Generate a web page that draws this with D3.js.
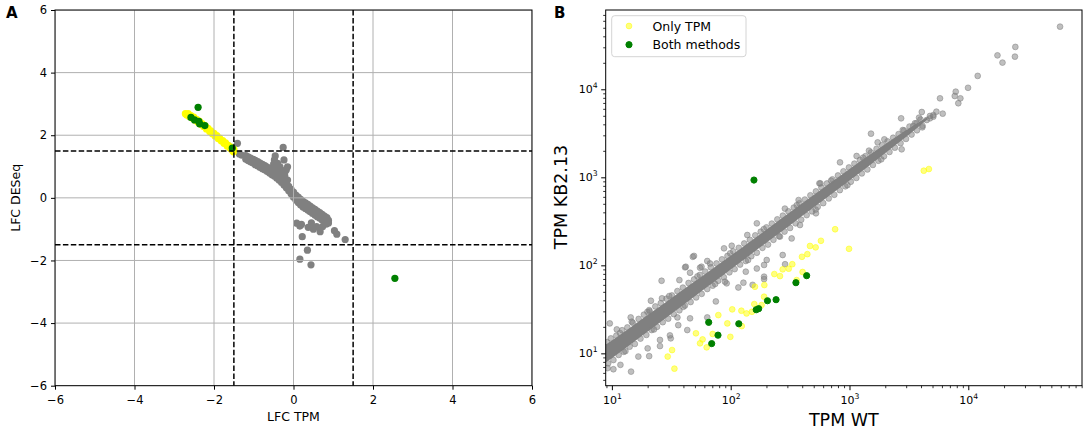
<!DOCTYPE html>
<html><head><meta charset="utf-8">
<script src="https://cdn.jsdelivr.net/npm/d3@7"></script>
<style>body{margin:0;background:#fff} svg{display:block} text{font-family:"DejaVu Sans",sans-serif}</style>
</head><body><svg id="c" width="1084" height="429"></svg>
<script>
// ---------------- DATA ----------------
// Panel A (log fold changes)
const lfcDomain = [-6, 6];
const lfcTicks = [-6, -4, -2, 0, 2, 4, 6];
const lfcThresholds = [-1.5, 1.5];
const aGray = [
 [-1.20,1.35],[-1.20,1.23],[-1.14,1.31],[-1.14,1.19],[-1.08,1.27],[-1.08,1.15],[-1.02,1.23],[-1.02,1.11],
 [-0.96,1.20],[-0.96,1.06],[-0.90,1.16],[-0.90,1.02],[-0.84,1.11],[-0.84,0.97],[-0.78,1.07],[-0.78,0.93],
 [-0.72,1.03],[-0.72,0.89],[-0.66,0.98],[-0.66,0.84],[-0.60,0.93],[-0.60,0.79],[-0.54,0.88],[-0.54,0.74],
 [-0.48,0.83],[-0.48,0.69],[-0.42,0.77],[-0.42,0.63],[-0.36,0.70],[-0.36,0.56],[-0.30,0.63],[-0.30,0.49],
 [-0.24,0.55],[-0.24,0.41],[-0.18,0.46],[-0.18,0.32],[-0.12,0.37],[-0.12,0.23],[-0.06,0.27],[-0.06,0.13],
 [0.00,0.18],[0.00,0.02],[0.06,0.09],[0.06,-0.07],[0.12,0.02],[0.12,-0.15],[0.18,-0.05],[0.18,-0.23],[0.15,-0.12],
 [0.24,-0.11],[0.24,-0.29],[0.27,-0.20],[0.30,-0.16],[0.30,-0.34],[0.36,-0.21],[0.36,-0.39],[0.39,-0.30],
 [0.42,-0.26],[0.42,-0.44],[0.48,-0.32],[0.48,-0.50],[0.51,-0.41],[0.54,-0.37],[0.54,-0.55],
 [0.60,-0.42],[0.60,-0.60],[0.63,-0.51],[0.66,-0.47],[0.66,-0.65],[0.72,-0.53],[0.72,-0.71],[0.75,-0.62],
 [0.78,-0.58],[0.78,-0.76],[0.84,-0.63],[0.84,-0.81],[0.88,-0.72],
 [-1.17,1.27],[-0.99,1.14],[-0.81,1.02],[-0.63,0.88],[-0.45,0.73],[-0.27,0.52],[-0.09,0.21],[0.09,-0.04],
 [-0.46,1.34],[-0.48,1.21],[-0.26,1.61],[-0.24,1.21],[-0.15,0.99],[-0.55,0.95],[-0.34,0.99],[-0.21,0.84],
 [-0.15,0.57],[-0.40,1.10],[-0.30,0.88],[-0.22,0.70],[-0.44,0.98],[-0.50,1.08],[-0.36,0.84],[-0.18,0.90],
 [-1.41,1.74],[-1.36,1.40],[-1.30,1.36],
 [0.08,-0.81],[0.16,-0.90],[0.22,-1.24],[0.35,-1.67],[0.16,-1.96],[0.44,-2.14],[0.37,-0.94],[0.50,-1.00],
 [0.58,-0.92],[0.67,-1.08],[0.73,-0.92],[0.82,-0.84],[0.88,-0.80],[1.03,-1.05],[1.09,-1.16],[1.30,-1.33],
 [0.20,-0.85],[0.45,-0.80]
];
const aOnlyTPM = [
 [-2.72,2.69],[-2.68,2.64],[-2.65,2.69],[-2.62,2.60],[-2.58,2.63],[-2.55,2.55],[-2.51,2.58],[-2.48,2.49],
 [-2.44,2.51],[-2.41,2.42],[-2.37,2.45],[-2.33,2.35],[-2.30,2.37],[-2.26,2.28],[-2.22,2.30],[-2.19,2.20],
 [-2.15,2.22],[-2.11,2.12],[-2.08,2.14],[-2.04,2.05],[-2.00,2.06],[-1.97,1.97],[-1.93,1.99],[-1.89,1.89],
 [-1.86,1.91],[-1.82,1.82],[-1.78,1.83],[-1.75,1.74],[-1.71,1.76],[-1.67,1.66],[-1.64,1.68],[-1.60,1.59],
 [-1.57,1.62],[-1.54,1.52],[-1.51,1.47],[-1.50,1.55]
];
const aBoth = [[-2.40,2.89],[-2.58,2.57],[-2.49,2.49],[-2.38,2.44],[-2.36,2.36],[-2.23,2.31],[-1.54,1.59],[2.55,-2.57]];

// Panel B (TPM values)
const wtDomain = [8.87, 90600];
const kbDomain = [4.29, 79600];
const tpmTicks = [10, 100, 1000, 10000];
// envelope of the dense cloud of genes
const bandWT   = [8.9, 10, 15, 22, 32, 46, 68, 100, 150, 220, 320, 460, 680, 1000, 1500, 2200, 3200, 4500];
const bandLow  = [7.9, 8.8, 13.2, 19.4, 28.3, 41.0, 60.8, 89.6, 135.0, 198.5, 289.5, 418.6, 622.0, 920.5, 1393, 2080, 3085, 4495];
const bandHigh = [12.6, 14.0, 20.6, 29.8, 42.8, 60.8, 88.6, 128.4, 191.5, 279.8, 405.8, 580.6, 854.3, 1247, 1826, 2602, 3633, 4820];
// genes on the edge of the cloud
const bEdge = [
 [9.1,13.4],[9.3,7.7],[9.8,14.8],[10.3,8.4],[10.9,15.9],[11.4,9.6],[12.2,18.3],[12.6,10.4],[13.5,19.7],[14.1,11.9],
 [15.0,22.2],[15.6,12.8],[16.8,24.6],[17.4,14.7],[18.6,27.5],[19.5,16.2],[20.8,30.0],[21.6,18.4],[23.2,34.1],[24.0,20.0],
 [25.8,37.2],[26.8,22.6],[28.8,41.8],[29.8,24.8],[32.0,45.5],[33.2,27.9],[35.6,51.0],[37.0,30.8],[39.6,55.8],[41.2,34.9],
 [44.2,63.0],[46.0,38.3],[49.2,69.2],[51.2,43.2],[55.0,77.8],[57.0,47.4],[61.0,85.0],[63.5,53.8],[68.0,95.2],[70.5,58.8],
 [76.0,105],[78.5,66.8],[84.5,117],[87.5,73.2],[94.0,128],[97.5,83.2],[105,144],[108,90.6],[117,158],[120,102],
 [130,177],[134,112],[145,195],[149,127],[161,219],[166,139],[179,241],[185,158],[200,270],[206,172],
 [222,298],[229,195],[247,333],[255,214],[275,367],[284,242],[306,411],[316,266],[340,453],[352,300],
 [379,507],[392,330],[421,559],[436,372],[469,625],[485,410],[522,692],[540,462],[580,770],[601,509],
 [646,851],[669,575],[719,949],[745,633],[800,1050],[829,715],[890,1170],[922,790],[990,1294],[1026,891],
 [1100,1430],[1142,984],[1225,1575],[1270,1108],[1364,1740],[1414,1228],[1518,1915],[1574,1383],[1690,2105],[1750,1543],
 [1880,2325],[1950,1733],[2090,2565],[2170,1943],[2330,2815],[2410,2173],[2590,3095],[2690,2443],[2880,3415],[2990,2733],
 [3200,3775],[3330,3063],[3560,4115],[3700,3423],[3960,4535],[4120,3843],
 [11.7,17.0],[13.0,10.6],[19.9,29.6],[22.6,18.7],[30.4,44.8],[40.0,33.8],[52.5,75.0],[74.0,61.5],[99,137],[140,115],
 [190,258],[260,212],[360,482],[520,430],[700,918],[960,815],[1300,1670],[1850,1600]
];
// genes away from the cloud
const bGray = [
 [9.6,21.9],[11.0,18.7],[14.5,6.2],[20.6,9.3],[20.0,11.4],[16.7,9.2],[25.4,12.1],[30.8,16.0],[26.2,66.8],[21.3,39.6],
 [41.3,94.8],[49.1,128],[45.5,25.0],[35.6,25.6],[63.5,112],[63.5,25.6],[75.0,38.9],[87.9,156],[102,167],[92.5,62.4],
 [128,63.5],[191,74.3],[191,69.8],[166,92],[134,84.7],[201,115],[274,131],[287,103],[326,202],[41.9,96.4],
 [56.8,96.4],[48.0,125],[166,300],[138,221],[558,855],[373,552],[286,441],[522,390],[383,287],[569,853],
 [832,1479],[1148,1746],[1459,2009],[1726,2495],[1965,2700],[1517,3133],[2807,3445],[2749,2080],[4103,3698],[3670,4100],
 [3440,3830],[4470,4480],[4760,4680],[5080,4890],[59200,51500],[24900,30300],[24700,23500],[17600,24300],[19400,20100],[12000,14200],
 [9950,10400],[7840,9400],[7690,8390],[8580,7900],[8240,6940],[5780,7900],[4060,5520],[5390,5570],[6090,5290],[2720,4680],
 [3850,4760],[4760,4980],[5080,5100],[116,56],[153,60],[191,101],[14.4,25.6],[14.7,22.9],[20.6,31],[26.4,42.2],
 [37,68],[45.5,82.4],[55.2,94],[67,105],[25.4,14.2],[36.2,20.9],[31.3,14.8],[43.1,18.4],[89.5,65.2],[9.2,6.8],
 [10.3,6.6],[11.8,7.4]
];
const bOnlyTPM = [
 [29.5,9.2],[32.1,10.9],[33.6,6.7],[51,16.9],[55.2,13.0],[58,14.4],[62.8,11.7],[70.5,16.6],[78.7,27.2],[93.7,21.9],
 [99.3,15.4],[103,31.6],[123,30.5],[124,20.4],[136,28.4],[151,29.7],[158,36.3],[160,57.1],[192,59.7],[191,44.0],
 [182,35.4],[233,79.6],[260,75.5],[274,90],[308,91.6],[330,103],[359,68],[403,84],[398,125],[442,134],
 [465,166],[519,160],[575,190],[757,257],[991,154],[4220,1189],[4660,1242]
];
const bBoth = [[65.3,22.5],[78.2,16.1],[69.2,12.9],[117,21.7],[164,31.3],[172,32.2],[204,39.6],[241,40.7],[354,63.5],[436,76.3],[157,931]];
const legendLabels = ["Only TPM", "Both methods"];

// ---------------- DRAW ----------------
const svg = d3.select("#c");
const defs = svg.append("defs");
const FONT = '"DejaVu Sans", sans-serif';

// ===== Panel A =====
const A = {l: 55, r: 532, t: 10, b: 385.7};
const xA = d3.scaleLinear().domain(lfcDomain).range([A.l, A.r]);
const yA = d3.scaleLinear().domain(lfcDomain).range([A.b, A.t]);
defs.append("clipPath").attr("id", "clipA").append("rect")
  .attr("x", A.l).attr("y", A.t).attr("width", A.r - A.l).attr("height", A.b - A.t);
const gA = svg.append("g").attr("clip-path", "url(#clipA)");

function dotsA(data, color) {
  gA.append("g").selectAll("circle").data(data).join("circle")
    .attr("cx", d => xA(d[0])).attr("cy", d => yA(d[1])).attr("r", 3.6).attr("fill", color);
}
dotsA(aGray, "#808080");
dotsA(aOnlyTPM, "#ffff00");
dotsA(aBoth, "#008000");

// grid (above points, as in the original)
gA.append("g").selectAll("line").data(lfcTicks).join("line")
  .attr("x1", d => xA(d)).attr("x2", d => xA(d)).attr("y1", A.t).attr("y2", A.b)
  .attr("stroke", "#b0b0b0").attr("stroke-width", 1);
gA.append("g").selectAll("line").data(lfcTicks).join("line")
  .attr("y1", d => yA(d)).attr("y2", d => yA(d)).attr("x1", A.l).attr("x2", A.r)
  .attr("stroke", "#b0b0b0").attr("stroke-width", 1);
// thresholds
gA.append("g").selectAll("line").data(lfcThresholds).join("line")
  .attr("x1", d => xA(d)).attr("x2", d => xA(d)).attr("y1", A.t).attr("y2", A.b)
  .attr("stroke", "#000").attr("stroke-width", 1.5).attr("stroke-dasharray", "5.5,2.4");
gA.append("g").selectAll("line").data(lfcThresholds).join("line")
  .attr("y1", d => yA(d)).attr("y2", d => yA(d)).attr("x1", A.l).attr("x2", A.r)
  .attr("stroke", "#000").attr("stroke-width", 1.5).attr("stroke-dasharray", "5.5,2.4");

const fmtA = d => (d < 0 ? "\u2212" + Math.abs(d) : String(d));
function styleAxis(g, fs) {
  g.select(".domain").remove();
  g.attr("font-family", FONT).attr("font-size", fs).attr("color", "#000");
  g.selectAll(".tick line").attr("stroke-width", 1);
}
svg.append("g").attr("transform", `translate(0,${A.b})`)
  .call(d3.axisBottom(xA).tickValues(lfcTicks).tickSize(4).tickPadding(6).tickFormat(fmtA))
  .call(g => styleAxis(g, 11.5));
svg.append("g").attr("transform", `translate(${A.l},0)`)
  .call(d3.axisLeft(yA).tickValues(lfcTicks).tickSize(4).tickPadding(4).tickFormat(fmtA))
  .call(g => styleAxis(g, 11.5));
svg.append("rect").attr("x", A.l).attr("y", A.t).attr("width", A.r - A.l).attr("height", A.b - A.t)
  .attr("fill", "none").attr("stroke", "#000").attr("stroke-width", 1);

svg.append("text").attr("x", (A.l + A.r) / 2).attr("y", 421).attr("text-anchor", "middle")
  .attr("font-size", 12.5).text("LFC TPM");
svg.append("text").attr("transform", `translate(19.5,${(A.t + A.b) / 2}) rotate(-90)`).attr("text-anchor", "middle")
  .attr("font-size", 12.5).text("LFC DESeq");
svg.append("text").attr("x", 6).attr("y", 18.3).attr("font-size", 15).attr("font-weight", "bold").text("A");

// ===== Panel B =====
const B = {l: 605.7, r: 1082, t: 10, b: 385.7};
const xB = d3.scaleLog().domain(wtDomain).range([B.l, B.r]);
const yB = d3.scaleLog().domain(kbDomain).range([B.b, B.t]);
defs.append("clipPath").attr("id", "clipB").append("rect")
  .attr("x", B.l).attr("y", B.t).attr("width", B.r - B.l).attr("height", B.b - B.t);
const gB = svg.append("g").attr("clip-path", "url(#clipB)");

gB.append("path").datum(bandWT.map((w, i) => [w, bandLow[i], bandHigh[i]]))
  .attr("fill", "#808080")
  .attr("d", d3.area().curve(d3.curveMonotoneX).x(d => xB(d[0])).y0(d => yB(d[1])).y1(d => yB(d[2])));

function dotsB(data, color, op, r) {
  gB.append("g").selectAll("circle").data(data).join("circle")
    .attr("cx", d => xB(d[0])).attr("cy", d => yB(d[1])).attr("r", r)
    .attr("fill", color).attr("fill-opacity", op)
    .attr("stroke", color).attr("stroke-opacity", op).attr("stroke-width", 1);
}
dotsB(bEdge, "#808080", 0.5, 2.9);
dotsB(bGray, "#808080", 0.5, 2.9);
dotsB(bOnlyTPM, "#ffff00", 0.5, 2.9);
dotsB(bBoth, "#008000", 1, 3.1);

function minorTicks(domain) {
  const out = [];
  for (let e = -1; e <= 5; e++) for (let k = 2; k <= 9; k++) {
    const v = k * Math.pow(10, e);
    if (v >= domain[0] && v <= domain[1]) out.push(v);
  }
  return out;
}
function supLabels(g) {
  g.selectAll(".tick text").each(function (d) {
    const t = d3.select(this);
    t.text(null);
    t.append("tspan").text("10");
    t.append("tspan").attr("dy", -5).attr("font-size", 7.7).text(Math.round(Math.log10(d)));
  });
}
svg.append("g").attr("transform", `translate(0,${B.b})`)
  .call(d3.axisBottom(xB).tickValues(minorTicks(wtDomain)).tickSize(2.5).tickFormat(""))
  .call(g => { styleAxis(g, 11); g.selectAll(".tick line").attr("stroke-width", 0.8); });
svg.append("g").attr("transform", `translate(0,${B.b})`)
  .call(d3.axisBottom(xB).tickValues(tpmTicks).tickSize(4.5).tickPadding(6.5).tickFormat(d => d))
  .call(g => styleAxis(g, 11)).call(supLabels);
svg.append("g").attr("transform", `translate(${B.l},0)`)
  .call(d3.axisLeft(yB).tickValues(minorTicks(kbDomain)).tickSize(2.5).tickFormat(""))
  .call(g => { styleAxis(g, 11); g.selectAll(".tick line").attr("stroke-width", 0.8); });
svg.append("g").attr("transform", `translate(${B.l},0)`)
  .call(d3.axisLeft(yB).tickValues(tpmTicks).tickSize(4.5).tickPadding(3.5).tickFormat(d => d))
  .call(g => styleAxis(g, 11)).call(supLabels);
svg.append("rect").attr("x", B.l).attr("y", B.t).attr("width", B.r - B.l).attr("height", B.b - B.t)
  .attr("fill", "none").attr("stroke", "#000").attr("stroke-width", 1);

svg.append("text").attr("x", (B.l + B.r) / 2).attr("y", 426).attr("text-anchor", "middle")
  .attr("font-size", 17.5).text("TPM WT");
svg.append("text").attr("transform", `translate(566.5,197) rotate(-90)`).attr("text-anchor", "middle")
  .attr("font-size", 17.5).text("TPM KB2.13");
svg.append("text").attr("x", 554).attr("y", 18.3).attr("font-size", 15).attr("font-weight", "bold").text("B");

// legend
const leg = svg.append("g");
leg.append("rect").attr("x", 611.7).attr("y", 15.7).attr("width", 134.3).attr("height", 41).attr("rx", 3)
  .attr("fill", "#fff").attr("fill-opacity", 0.8).attr("stroke", "#d4d4d4").attr("stroke-width", 1);
const legStyles = [{c: "#ffff00", op: 0.5}, {c: "#008000", op: 1}];
legendLabels.forEach((lab, i) => {
  const y = 26 + i * 18.7;
  leg.append("circle").attr("cx", 629).attr("cy", y).attr("r", i === 0 ? 2.9 : 3.1)
    .attr("fill", legStyles[i].c).attr("fill-opacity", legStyles[i].op)
    .attr("stroke", legStyles[i].c).attr("stroke-opacity", legStyles[i].op);
  leg.append("text").attr("x", 652.5).attr("y", y + 4.5).attr("font-size", 12.5).text(lab);
});
</script></body></html>
